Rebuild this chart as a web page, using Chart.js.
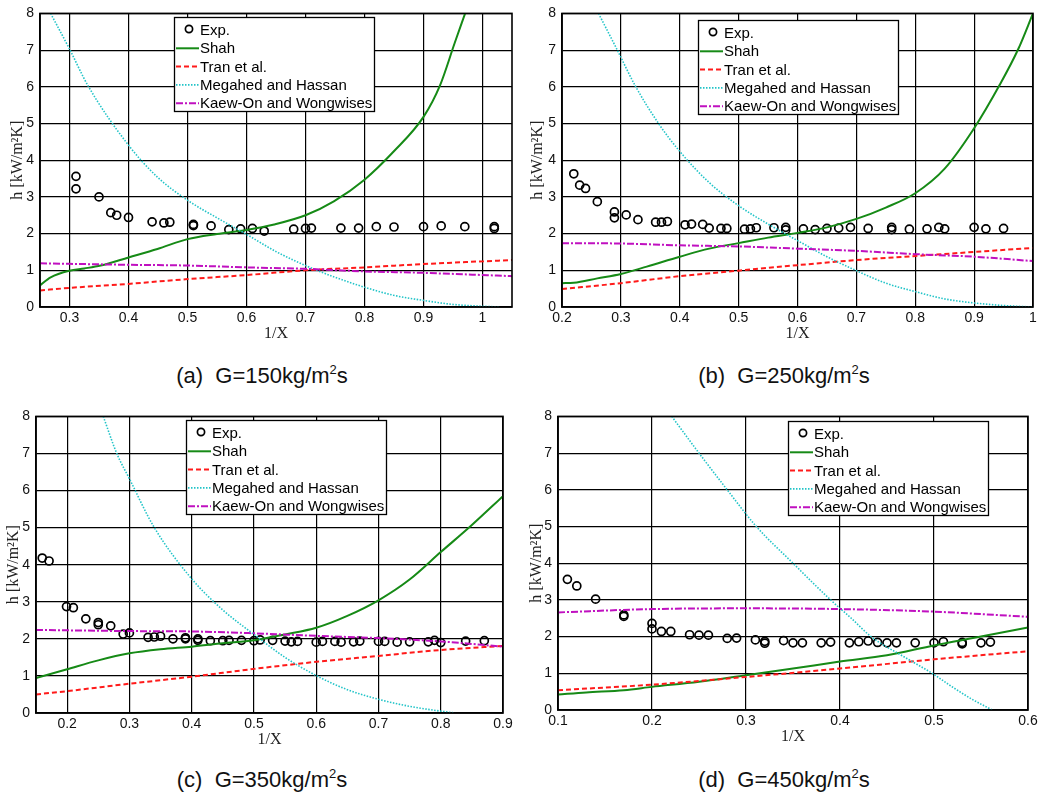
<!DOCTYPE html>
<html>
<head>
<meta charset="utf-8">
<script src="https://cdn.jsdelivr.net/npm/chart.js@4.4.0/dist/chart.umd.min.js"></script>
<style>
html,body{margin:0;padding:0;background:#fff;width:1047px;height:799px;overflow:hidden;position:relative;font-family:"Liberation Sans",Arial,sans-serif}
canvas.panel{position:absolute}
.cap{position:absolute;font-size:22px;line-height:22px;color:#111;white-space:nowrap;transform:translateX(-50%)}
.cap sup{font-size:13px;line-height:0;vertical-align:9px}
</style>
</head>
<body>
<div class="cap" style="left:262px;top:365px">(a)&nbsp; G=150kg/m<sup>2</sup>s</div>
<div class="cap" style="left:784px;top:365px">(b)&nbsp; G=250kg/m<sup>2</sup>s</div>
<div class="cap" style="left:262px;top:769px">(c)&nbsp; G=350kg/m<sup>2</sup>s</div>
<div class="cap" style="left:784px;top:769px">(d)&nbsp; G=450kg/m<sup>2</sup>s</div>
<script>
// ---------------- DATA ----------------
const seriesNames = ['Exp.', 'Shah', 'Tran et al.', 'Megahed and Hassan', 'Kaew-On and Wongwises'];
const yTicks = [0, 1, 2, 3, 4, 5, 6, 7, 8];
const xTicksA = [0.3, 0.4, 0.5, 0.6, 0.7, 0.8, 0.9, 1.0];
const xTicksB = [0.2, 0.3, 0.4, 0.5, 0.6, 0.7, 0.8, 0.9, 1.0];
const xTicksC = [0.2, 0.3, 0.4, 0.5, 0.6, 0.7, 0.8, 0.9];
const xTicksD = [0.1, 0.2, 0.3, 0.4, 0.5, 0.6];
const xRangeA = [0.25, 1.05], xRangeB = [0.2, 1.0], xRangeC = [0.15, 0.9], xRangeD = [0.1, 0.6];
const yRange = [0, 8];

// (a) G=150
const expA = [[0.311,3.56],[0.311,3.22],[0.35,3.0],[0.37,2.57],[0.38,2.50],[0.40,2.44],[0.44,2.32],[0.46,2.29],[0.47,2.31],[0.51,2.25],[0.51,2.22],[0.54,2.21],[0.57,2.11],[0.59,2.13],[0.61,2.14],[0.63,2.07],[0.68,2.12],[0.70,2.14],[0.71,2.15],[0.76,2.15],[0.79,2.15],[0.82,2.19],[0.85,2.18],[0.90,2.19],[0.93,2.21],[0.97,2.19],[1.02,2.19],[1.02,2.14]];
const shahA = [[0.25,0.59],[0.268,0.81],[0.3,0.99],[0.325,1.05],[0.353,1.13],[0.4,1.35],[0.449,1.58],[0.5,1.85],[0.55,1.99],[0.6,2.1],[0.647,2.25],[0.7,2.5],[0.748,2.88],[0.8,3.47],[0.849,4.23],[0.9,5.18],[0.928,6.04],[0.953,7.2],[0.971,8.02]];
const tranA = [[0.25,0.45],[0.3,0.52],[0.4,0.63],[0.5,0.76],[0.6,0.87],[0.7,1.0],[0.8,1.08],[0.9,1.17],[1.05,1.28]];
const megA = [[0.268,8.0],[0.3,7.03],[0.331,6.04],[0.4,4.41],[0.449,3.54],[0.5,2.91],[0.55,2.43],[0.6,1.98],[0.65,1.51],[0.7,1.13],[0.75,0.81],[0.8,0.54],[0.849,0.32],[0.9,0.18],[0.95,0.07],[1.0,0.02],[1.03,0.0]];
const kaewA = [[0.25,1.19],[0.4,1.15],[0.5,1.13],[0.6,1.08],[0.7,1.04],[0.8,0.97],[0.9,0.93],[1.05,0.84]];

// (b) G=250
const expB = [[0.22,3.63],[0.23,3.32],[0.24,3.23],[0.26,2.87],[0.289,2.59],[0.289,2.43],[0.309,2.51],[0.329,2.38],[0.359,2.31],[0.369,2.31],[0.379,2.33],[0.409,2.24],[0.42,2.26],[0.439,2.25],[0.45,2.15],[0.47,2.14],[0.48,2.14],[0.51,2.12],[0.52,2.13],[0.53,2.16],[0.56,2.16],[0.58,2.17],[0.58,2.10],[0.61,2.13],[0.63,2.11],[0.65,2.14],[0.67,2.15],[0.69,2.17],[0.72,2.14],[0.76,2.17],[0.76,2.11],[0.79,2.12],[0.82,2.13],[0.84,2.17],[0.85,2.13],[0.90,2.17],[0.92,2.13],[0.95,2.14]];
const shahB = [[0.2,0.65],[0.22,0.66],[0.26,0.78],[0.3,0.9],[0.344,1.1],[0.4,1.37],[0.45,1.59],[0.5,1.74],[0.55,1.89],[0.6,2.02],[0.65,2.17],[0.7,2.4],[0.75,2.71],[0.8,3.1],[0.85,3.77],[0.9,4.87],[0.943,6.04],[0.975,7.03],[1.0,8.0]];
const tranB = [[0.2,0.49],[0.3,0.65],[0.4,0.84],[0.5,0.99],[0.6,1.14],[0.7,1.28],[0.8,1.39],[0.9,1.5],[1.0,1.61]];
const megB = [[0.262,8.0],[0.293,7.03],[0.324,6.04],[0.364,5.0],[0.4,4.24],[0.45,3.39],[0.5,2.76],[0.55,2.26],[0.6,1.81],[0.65,1.37],[0.7,0.99],[0.75,0.65],[0.8,0.42],[0.85,0.22],[0.9,0.11],[0.95,0.04],[1.0,0.0]];
const kaewB = [[0.2,1.74],[0.3,1.73],[0.4,1.68],[0.5,1.65],[0.6,1.59],[0.7,1.53],[0.8,1.44],[0.9,1.37],[1.0,1.25]];

// (c) G=350
const expC = [[0.16,4.18],[0.171,4.10],[0.199,2.87],[0.21,2.84],[0.23,2.54],[0.25,2.44],[0.25,2.38],[0.27,2.35],[0.29,2.13],[0.30,2.16],[0.33,2.04],[0.34,2.05],[0.35,2.07],[0.37,2.0],[0.39,2.03],[0.39,2.0],[0.41,2.0],[0.41,1.96],[0.43,1.95],[0.45,1.95],[0.46,1.96],[0.48,1.96],[0.50,1.95],[0.51,1.97],[0.53,1.96],[0.55,1.94],[0.56,1.92],[0.57,1.93],[0.60,1.91],[0.61,1.93],[0.63,1.93],[0.64,1.91],[0.66,1.92],[0.67,1.94],[0.70,1.93],[0.71,1.93],[0.73,1.91],[0.75,1.92],[0.78,1.92],[0.79,1.96],[0.80,1.90],[0.84,1.94],[0.87,1.95]];
const shahC = [[0.15,0.94],[0.2,1.18],[0.25,1.42],[0.3,1.61],[0.35,1.72],[0.4,1.79],[0.45,1.88],[0.5,1.96],[0.55,2.12],[0.6,2.3],[0.65,2.62],[0.7,3.04],[0.75,3.6],[0.8,4.34],[0.85,5.07],[0.9,5.85]];
const tranC = [[0.15,0.5],[0.2,0.59],[0.3,0.79],[0.4,0.98],[0.5,1.19],[0.6,1.38],[0.7,1.54],[0.8,1.7],[0.9,1.81]];
const megC = [[0.258,8.0],[0.28,6.99],[0.3,6.32],[0.339,5.03],[0.4,3.62],[0.45,2.78],[0.5,2.12],[0.55,1.5],[0.6,1.01],[0.65,0.63],[0.7,0.37],[0.75,0.18],[0.8,0.05],[0.823,0.0]];
const kaewC = [[0.15,2.24],[0.3,2.21],[0.4,2.2],[0.5,2.15],[0.6,2.08],[0.7,2.02],[0.8,1.93],[0.9,1.79]];

// (d) G=450
const expD = [[0.11,3.56],[0.12,3.38],[0.14,3.02],[0.17,2.59],[0.17,2.55],[0.2,2.36],[0.2,2.21],[0.21,2.14],[0.22,2.14],[0.24,2.05],[0.25,2.04],[0.26,2.04],[0.28,1.95],[0.29,1.96],[0.31,1.91],[0.32,1.87],[0.32,1.82],[0.34,1.89],[0.35,1.83],[0.36,1.83],[0.38,1.83],[0.39,1.85],[0.41,1.83],[0.42,1.86],[0.43,1.88],[0.44,1.84],[0.45,1.83],[0.46,1.83],[0.48,1.83],[0.50,1.83],[0.51,1.86],[0.53,1.84],[0.53,1.80],[0.55,1.83],[0.56,1.85]];
const shahD = [[0.1,0.42],[0.13,0.48],[0.17,0.54],[0.2,0.63],[0.25,0.77],[0.3,0.95],[0.35,1.13],[0.4,1.32],[0.45,1.49],[0.5,1.76],[0.55,2.0],[0.6,2.25]];
const tranD = [[0.1,0.54],[0.2,0.69],[0.3,0.9],[0.4,1.13],[0.5,1.38],[0.6,1.6]];
const megD = [[0.221,8.0],[0.25,7.0],[0.28,6.0],[0.311,5.0],[0.35,4.0],[0.39,3.0],[0.412,2.5],[0.433,2.0],[0.468,1.45],[0.498,1.0],[0.52,0.62],[0.54,0.3],[0.562,0.0]];
const kaewD = [[0.1,2.66],[0.2,2.75],[0.3,2.77],[0.4,2.75],[0.5,2.68],[0.6,2.54]];

// ---------------- LAYOUT / STYLE ----------------
const styles = [
  {showLine:false, borderColor:'#000', borderWidth:1.6, pointRadius:4, pointBackgroundColor:'rgba(0,0,0,0)', pointBorderColor:'#000', pointBorderWidth:1.7},
  {borderColor:'#168a16', borderWidth:2, borderDash:[]},
  {borderColor:'#ff1a1a', borderWidth:2, borderDash:[5,3]},
  {borderColor:'#22c4c8', borderWidth:1.6, borderDash:[1.5,1.5]},
  {borderColor:'#c010c0', borderWidth:2, borderDash:[7,2,2,2]}
];
const panels = [
  {series:[expA,shahA,tranA,megA,kaewA], xr:xRangeA, xt:xTicksA, area:{l:40,r:512,t:11,b:307}, ytx:18, right:530, leg:{x:174,y:17}},
  {series:[expB,shahB,tranB,megB,kaewB], xr:xRangeB, xt:xTicksB, area:{l:562,r:1033,t:11,b:307}, ytx:538, right:1047, leg:{x:698,y:20}},
  {series:[expC,shahC,tranC,megC,kaewC], xr:xRangeC, xt:xTicksC, area:{l:36,r:503,t:414,b:713}, ytx:14, right:525, leg:{x:186,y:420}},
  {series:[expD,shahD,tranD,megD,kaewD], xr:xRangeD, xt:xTicksD, area:{l:558,r:1028,t:414,b:710}, ytx:537, right:1047, leg:{x:788,y:421}}
];
const FONT = '"Liberation Sans", Arial, sans-serif';
const SERIF = '"Liberation Serif", "Times New Roman", serif';

const frame = {
  id:'frame',
  afterDatasetsDraw(chart){
    const {ctx, chartArea:a} = chart;
    ctx.save();
    ctx.strokeStyle = '#000'; ctx.lineWidth = 1.6; ctx.setLineDash([]);
    ctx.strokeRect(a.left, a.top, a.right - a.left, a.bottom - a.top);
    ctx.restore();
  }
};
const boxLegend = {
  id:'boxLegend',
  afterDraw(chart, args, o){
    const {ctx} = chart;
    const x = o.x, y = o.y, w = o.w, h = o.h;
    ctx.save();
    ctx.fillStyle = '#fff'; ctx.fillRect(x, y, w, h);
    ctx.strokeStyle = '#000'; ctx.lineWidth = 1.3; ctx.setLineDash([]);
    ctx.strokeRect(x + 0.5, y + 0.5, w, h);
    ctx.font = '15px ' + FONT; ctx.textBaseline = 'middle'; ctx.textAlign = 'left';
    chart.data.datasets.forEach((ds, i) => {
      const cy = y + 13 + i * 18.3;
      if (ds.showLine === false) {
        ctx.beginPath(); ctx.setLineDash([]);
        ctx.lineWidth = 1.7; ctx.strokeStyle = '#000';
        ctx.arc(x + 15, cy - 1, 3.6, 0, Math.PI * 2); ctx.stroke();
      } else {
        ctx.beginPath(); ctx.setLineDash(ds.borderDash || []);
        ctx.lineWidth = ds.borderWidth; ctx.strokeStyle = ds.borderColor;
        ctx.moveTo(x + 2, cy); ctx.lineTo(x + 25, cy); ctx.stroke();
      }
      ctx.setLineDash([]);
      ctx.fillStyle = '#000';
      ctx.fillText(ds.label, x + 26, cy + 1);
    });
    ctx.restore();
  }
};

const fmt = v => String(+(+v).toFixed(2));

panels.forEach(p => {
  const A = p.area;
  const left = Math.max(0, p.ytx - 14);
  const top = A.t - 12;
  const width = p.right - left;
  const height = A.b + 36 - top;
  const cv = document.createElement('canvas');
  cv.className = 'panel';
  cv.width = width; cv.height = height;
  cv.style.left = left + 'px'; cv.style.top = top + 'px';
  cv.style.width = width + 'px'; cv.style.height = height + 'px';
  document.body.appendChild(cv);

  const datasets = p.series.map((s, i) => Object.assign({
    label: seriesNames[i],
    data: s.map(([x, y]) => ({x, y})),
    pointRadius: 0,
    fill: false,
    cubicInterpolationMode: 'monotone',
    order: i === 0 ? 5 : 4 - i
  }, styles[i]));

  new Chart(cv, {
    type: 'line',
    data: {datasets},
    plugins: [frame, boxLegend],
    options: {
      responsive: false,
      devicePixelRatio: 1,
      animation: false,
      events: [],
      layout: {padding: {left: 0, top: 12, right: p.right - A.r, bottom: 0}},
      plugins: {
        legend: {display: false},
        tooltip: {enabled: false},
        boxLegend: {x: p.leg.x - left, y: p.leg.y - top, w: 200, h: 94}
      },
      scales: {
        x: {
          type: 'linear', min: p.xr[0], max: p.xr[1],
          afterBuildTicks: s => { s.ticks = p.xt.map(v => ({value: v})); },
          afterFit: s => { s.height = 36; },
          ticks: {color: '#111', font: {family: FONT, size: 14}, padding: 3, maxRotation: 0, autoSkip: false, callback: fmt},
          grid: {color: '#000', lineWidth: 1.2, drawTicks: false},
          border: {display: true, color: '#000', width: 1.6},
          title: {display: true, text: '1/X', color: '#222', font: {family: SERIF, size: 16}, padding: {top: 0, bottom: 0}}
        },
        y: {
          type: 'linear', min: yRange[0], max: yRange[1],
          afterBuildTicks: s => { s.ticks = yTicks.map(v => ({value: v})); },
          afterFit: s => { s.width = A.l - left; },
          ticks: {color: '#111', font: {family: FONT, size: 14}, padding: 6, autoSkip: false, callback: fmt},
          grid: {color: '#000', lineWidth: 1.2, drawTicks: false},
          border: {display: true, color: '#000', width: 1.6},
          title: {display: true, text: 'h [kW/m²K]', color: '#222', font: {family: SERIF, size: 16}, padding: {top: p.ytx - left - 9.6, bottom: 0}}
        }
      }
    }
  });
});
</script>
</body>
</html>
